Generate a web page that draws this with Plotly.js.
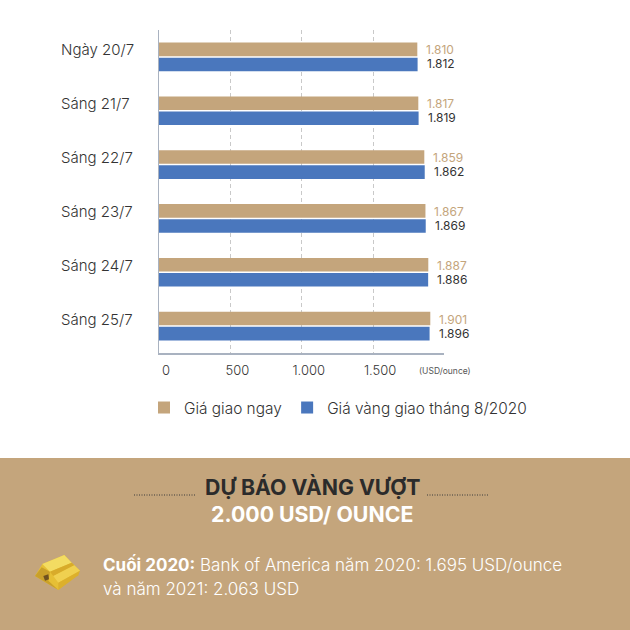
<!DOCTYPE html>
<html><head><meta charset="utf-8">
<script src="https://cdn.plot.ly/plotly-3.0.1.min.js"></script>
<style>html,body{margin:0;padding:0;background:#fff}#c{width:630px;height:630px}</style>
</head><body><div id="c"></div>
<script>
const categories = ["Ngày 20/7","Sáng 21/7","Sáng 22/7","Sáng 23/7","Sáng 24/7","Sáng 25/7"];
const spotValues = [1810,1817,1859,1867,1887,1901];
const futuresValues = [1812,1819,1862,1869,1886,1896];
const spotName = "Giá giao ngay";
const futuresName = "Giá vàng giao tháng 8/2020";
const xTickVals = [0,500,1000,1500];
const xTickText = ["0","500","1.000","1.500"];
const unitLabel = "(USD/ounce)";

const W=630,H=630,L=159,R=444,T=30,B=353;
const FONT='Inter, "Noto Sans", sans-serif';
const TAN='#c4a57c',BLUE='#4a77bd',DARK='#333333';
const px=x=>(x-L)/(R-L), py=y=>(B-y)/(B-T);
const fmt=v=>String(v).replace(/(\d)(\d{3})$/,'$1.$2');

const traces=[
 {type:'bar',orientation:'h',name:spotName,y:categories,x:spotValues,marker:{color:TAN},hoverinfo:'skip'},
 {type:'bar',orientation:'h',name:futuresName,y:categories,x:futuresValues,marker:{color:BLUE},hoverinfo:'skip'}
];

const note=(text,x,y,size,color,anchor,weight)=>({xref:'paper',yref:'paper',x:px(x),y:py(y),text,showarrow:false,
  xanchor:anchor||'left',yanchor:'middle',align:'left',font:{family:FONT,size,color,weight:weight||400}});

const annotations=[];
categories.forEach((c,i)=>{
  annotations.push({xref:'paper',yref:'y',x:px(59),y:c,yshift:7,text:c,showarrow:false,xanchor:'left',yanchor:'middle',font:{family:FONT,size:15,color:DARK,weight:300}});
  annotations.push({xref:'x',yref:'y',x:spotValues[i],y:c,yshift:7,xshift:7,text:fmt(spotValues[i]),showarrow:false,xanchor:'left',yanchor:'middle',font:{family:FONT,size:12,color:TAN}});
  annotations.push({xref:'x',yref:'y',x:futuresValues[i],y:c,yshift:-7,xshift:7,text:fmt(futuresValues[i]),showarrow:false,xanchor:'left',yanchor:'middle',font:{family:FONT,size:12,color:DARK}});
});
annotations.push(note(unitLabel,417,371,8.5,'#555555'));
annotations.push(note('<b>DỰ BÁO VÀNG VƯỢT</b>',313,487,21.3,'#2b2b2b','center'));
annotations.push(note('<b>2.000 USD/ OUNCE</b>',312,514,21.3,'#ffffff','center'));
annotations.push(note('<b>Cuối 2020:</b> Bank of America năm 2020: 1.695 USD/ounce',101,564,17,'#ffffff','left',300));
annotations.push(note('và năm 2021: 2.063 USD',101,589,17,'#ffffff','left',300));

const poly=(pts,fill)=>({type:'path',xref:'paper',yref:'paper',layer:'above',line:{width:0},fillcolor:fill,
  path:'M'+pts.map(p=>px(25+p[0]/3)+','+py(540+p[1]/3)).join('L')+'Z'});
const shapes=[
 {type:'rect',xref:'paper',yref:'paper',x0:px(0),x1:px(630),y0:py(458),y1:py(630),fillcolor:TAN,line:{width:0},layer:'below'},
 {type:'line',xref:'paper',yref:'paper',x0:px(134),x1:px(196),y0:py(495),y1:py(495),line:{color:'#3a3a3a',width:1,dash:'1px,1.5px'}},
 {type:'line',xref:'paper',yref:'paper',x0:px(427),x1:px(489),y0:py(495),y1:py(495),line:{color:'#3a3a3a',width:1,dash:'1px,1.5px'}},
 poly([[30,108],[52,72],[118,45],[140,68],[165,92],[100,150]],'#e6bf35'),
 poly([[30,108],[50,82],[75,95],[70,122],[100,150]],'#c9a02a'),
 poly([[52,72],[118,45],[140,68],[75,95]],'#f3dc62'),
 poly([[75,95],[140,68],[148,76],[85,108]],'#d8ab2a'),
 poly([[85,108],[148,76],[165,92],[100,128]],'#f0d050'),
 poly([[100,128],[165,92],[160,106],[100,150]],'#dcb02c'),
 poly([[55,108],[70,103],[72,118],[60,122]],'#6e5120')
];

const layout={
 width:W,height:H,autosize:false,paper_bgcolor:'#ffffff',plot_bgcolor:'#ffffff',
 margin:{l:L,r:W-R,t:T,b:H-B,pad:0},
 barmode:'group',bargap:0.44,bargroupgap:0.1,
 font:{family:FONT,color:DARK},
 xaxis:{range:[0,1997],fixedrange:true,tickmode:'array',tickvals:xTickVals,ticktext:xTickText,
   showgrid:true,gridcolor:'#c9c9c9',griddash:'4px,3px',gridwidth:1,zeroline:false,
   showline:true,linecolor:'#a9b2c0',linewidth:1.5,
   ticks:'outside',ticklen:5,tickcolor:'rgba(0,0,0,0)',ticklabelshift:7,tickfont:{family:FONT,size:13,color:DARK,weight:300}},
 yaxis:{type:'category',autorange:'reversed',fixedrange:true,showticklabels:false,showgrid:false,zeroline:false,
   showline:true,linecolor:'#a9b2c0',linewidth:1.5,ticks:''},
 showlegend:true,
 legend:{orientation:'h',xref:'paper',yref:'paper',x:px(144),y:py(391),xanchor:'left',yanchor:'top',
   traceorder:'normal',font:{family:FONT,size:15.4,color:DARK,weight:300},itemwidth:30,bgcolor:'rgba(0,0,0,0)'},
 shapes,annotations
};
Plotly.newPlot('c',traces,layout,{displayModeBar:false,staticPlot:true});
</script></body></html>
